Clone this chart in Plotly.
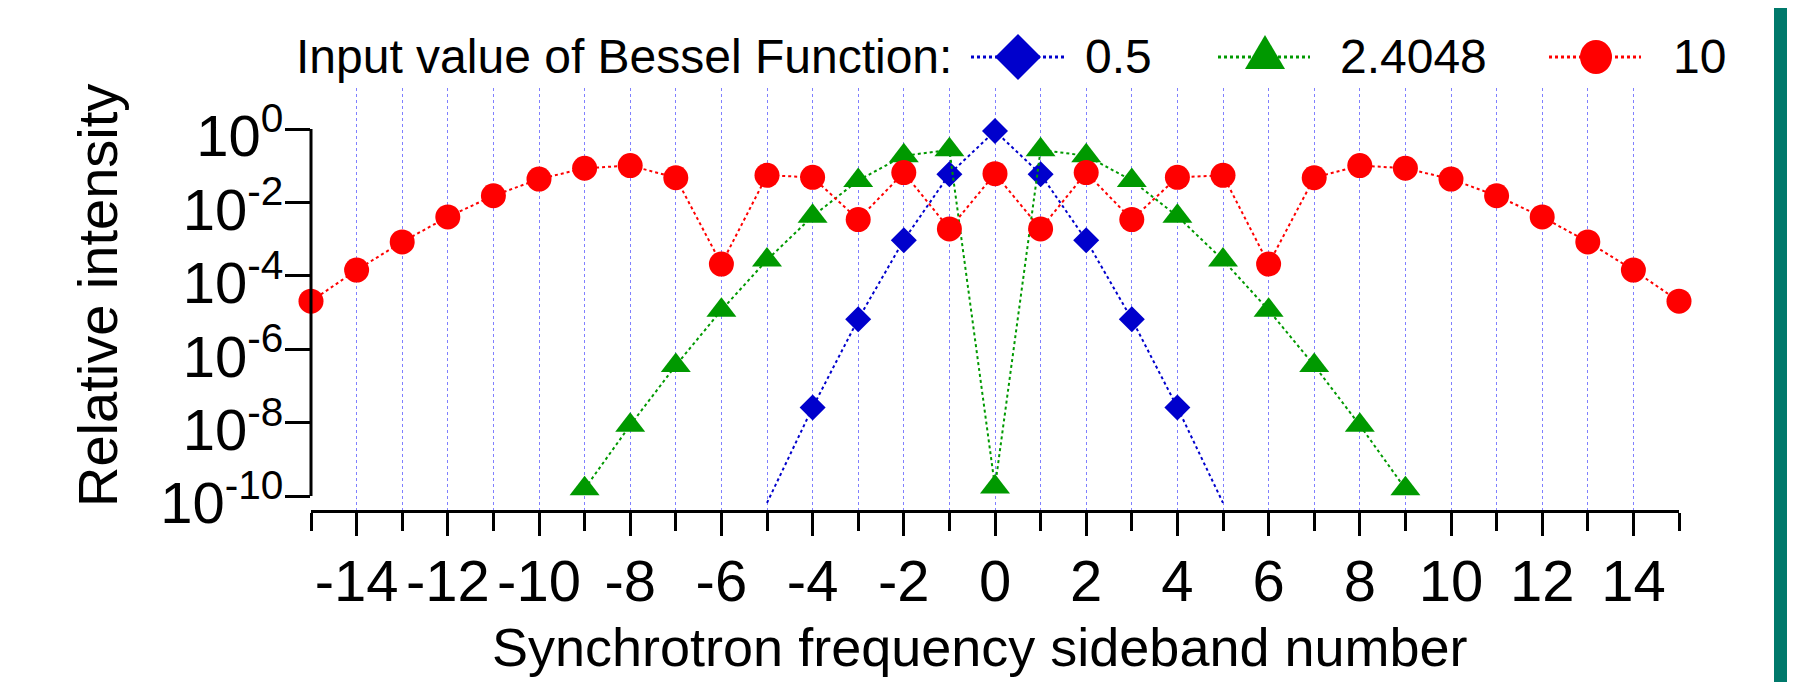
import plotly.graph_objects as go

# ---------------- data ----------------
sideband_a = [-5, -4, -3, -2, -1, 0, 1, 2, 3, 4, 5]
intensity_a = [6.49e-11, 2.58e-8, 6.57e-6, 9.37e-4, 5.87e-2, 0.881,
               5.87e-2, 9.37e-4, 6.57e-6, 2.58e-8, 6.49e-11]

sideband_b = [-9, -8, -7, -6, -5, -4, -3, -2, -1, 0, 1, 2, 3, 4, 5, 6, 7, 8, 9]
intensity_b = [1.57e-10, 8.49e-9, 3.61e-7, 1.16e-5, 2.69e-4, 4.19e-3, 3.96e-2, 0.186, 0.270,
               1.77e-10,
               0.270, 0.186, 3.96e-2, 4.19e-3, 2.69e-4, 1.16e-5, 3.61e-7, 8.49e-9, 1.57e-10]

sideband_c = [-15, -14, -13, -12, -11, -10, -9, -8, -7, -6, -5, -4, -3, -2, -1, 0,
              1, 2, 3, 4, 5, 6, 7, 8, 9, 10, 11, 12, 13, 14, 15]
intensity_c = [2.03e-5, 1.43e-4, 8.39e-4, 4.02e-3, 1.52e-2, 4.31e-2, 8.52e-2, 0.101, 4.70e-2,
               2.09e-4, 5.48e-2, 4.82e-2, 3.41e-3, 6.48e-2, 1.89e-3,
               6.05e-2,
               1.89e-3, 6.48e-2, 3.41e-3, 4.82e-2, 5.48e-2, 2.09e-4, 4.70e-2, 0.101, 8.52e-2,
               4.31e-2, 1.52e-2, 4.02e-3, 8.39e-4, 1.43e-4, 2.03e-5]

series_names = ["0.5", "2.4048", "10"]
legend_title = "Input value of Bessel Function:"
x_title = "Synchrotron frequency sideband number"
y_title = "Relative intensity"

x_tick_values = [-14, -12, -10, -8, -6, -4, -2, 0, 2, 4, 6, 8, 10, 12, 14]
x_tick_labels = ["-14", "-12", "-10", "-8", "-6", "-4", "-2", "0", "2", "4", "6", "8", "10", "12", "14"]
y_tick_exponents = [0, -2, -4, -6, -8, -10]

# ---------------- layout geometry (page pixels) ----------------
PAGE_W, PAGE_H = 1806, 682
OFF = 8                      # default body margin of the html page
W, H = PAGE_W - OFF, PAGE_H - OFF
PLOT_L, PLOT_R, PLOT_T, PLOT_B = 311, 1679, 88, 510   # plot area on the page
ML, MT = PLOT_L - OFF, PLOT_T - OFF
MR, MB = PAGE_W - PLOT_R, PAGE_H - PLOT_B
PW, PH = PLOT_R - PLOT_L, PLOT_B - PLOT_T


def fx(px):
    return (px - PLOT_L) / PW


def fy(py):
    return (PLOT_B - py) / PH


top_tick_px, bottom_tick_px = 129, 496
ppd = (bottom_tick_px - top_tick_px) / (max(y_tick_exponents) - min(y_tick_exponents))
y_top = max(y_tick_exponents) + (top_tick_px - PLOT_T) / ppd
y_bot = min(y_tick_exponents) - (PLOT_B - bottom_tick_px) / ppd

FONT = "Liberation Sans, Arial, sans-serif"
colors = ["#0000CC", "#009900", "#FF0000"]
symbols = ["diamond", "triangle-up", "circle"]
msizes = [20, 26, 25]

series = [(sideband_a, intensity_a), (sideband_b, intensity_b), (sideband_c, intensity_c)]
y_min_val = 10.0 ** min(y_tick_exponents)

fig = go.Figure()
for (xs, ys), name, col, sym, ms in zip(series, series_names, colors, symbols, msizes):
    fig.add_trace(go.Scatter(x=xs, y=ys, mode="lines", name=name, showlegend=False,
                             line=dict(color=col, width=2, dash="dot")))
    keep = [(x, y) for x, y in zip(xs, ys) if y >= y_min_val]
    fig.add_trace(go.Scatter(x=[k[0] for k in keep], y=[k[1] for k in keep], mode="markers",
                             name=name, showlegend=False, cliponaxis=False,
                             marker=dict(color=col, symbol=sym, size=ms, line=dict(width=0))))

grid_col = "#8080FF"
fig.update_xaxes(range=[-15, 15], showline=True, linewidth=3, linecolor="black",
                 ticks="outside", ticklen=23, tickwidth=3, tickcolor="black",
                 tickmode="array", tickvals=x_tick_values, ticktext=x_tick_labels,
                 tickfont=dict(family=FONT, size=58, color="black"),
                 ticklabelstandoff=-5,
                 showgrid=True, gridcolor=grid_col, gridwidth=1, griddash="3px,3px",
                 zeroline=False,
                 minor=dict(dtick=1, tick0=0, ticks="outside", ticklen=18, tickwidth=3,
                            tickcolor="black", showgrid=True, gridcolor=grid_col,
                            gridwidth=1, griddash="3px,3px"))
fig.update_yaxes(type="log", range=[y_bot, y_top], showline=False, showgrid=False, zeroline=False,
                 ticks="outside", ticklen=25, tickwidth=3, tickcolor="black",
                 tickmode="array", tickvals=[10.0 ** e for e in y_tick_exponents],
                 ticktext=["10<sup>%d</sup>" % e for e in y_tick_exponents],
                 tickfont=dict(family=FONT, size=58, color="black"),
                 ticklabelstandoff=-10, ticklabelshift=7)

shapes = []
annotations = []
# y axis line only between the first and last decade ticks
shapes.append(dict(type="line", xref="paper", yref="y", x0=0, x1=0,
                   y0=10.0 ** min(y_tick_exponents), y1=10.0 ** max(y_tick_exponents),
                   line=dict(color="black", width=3)))

# manual legend (large glyphs)
legend_y = 57
legend_items = [  # line start, line end, glyph centre, text left (page px)
    (971, 1064, 1018, 1083),
    (1218, 1310, 1265, 1338),
    (1549, 1641, 1596, 1671),
]
annotations.append(dict(text=legend_title, xref="paper", yref="paper", x=fx(294), y=fy(legend_y),
                        xanchor="left", yanchor="middle", showarrow=False,
                        font=dict(family=FONT, size=48, color="black")))
glyph_paths = {
    "diamond": "M-23,0L0,23L23,0L0,-23Z",
    "triangle-up": "M-20,-12L20,-12L0,22Z",
}
for (lx0, lx1, gc, tx), name, col, sym in zip(legend_items, series_names, colors, symbols):
    shapes.append(dict(type="line", xref="paper", yref="paper", x0=fx(lx0), x1=fx(lx1),
                       y0=fy(legend_y), y1=fy(legend_y), line=dict(color=col, width=3, dash="dot")))
    if sym == "circle":
        shapes.append(dict(type="circle", xref="paper", yref="paper", xsizemode="pixel",
                           ysizemode="pixel", xanchor=fx(gc), yanchor=fy(legend_y),
                           x0=-16, x1=16, y0=-17, y1=17, fillcolor=col, line=dict(width=0)))
    else:
        shapes.append(dict(type="path", xref="paper", yref="paper", xsizemode="pixel",
                           ysizemode="pixel", xanchor=fx(gc), yanchor=fy(legend_y),
                           path=glyph_paths[sym], fillcolor=col, line=dict(width=0)))
    annotations.append(dict(text=name, xref="paper", yref="paper", x=fx(tx), y=fy(legend_y),
                            xanchor="left", yanchor="middle", showarrow=False,
                            font=dict(family=FONT, size=48, color="black")))

# axis titles
annotations.append(dict(text=x_title, xref="paper", yref="paper", x=fx(980), y=fy(647),
                        xanchor="center", yanchor="middle", showarrow=False,
                        font=dict(family=FONT, size=54, color="black")))
annotations.append(dict(text=y_title, xref="paper", yref="paper", x=fx(97), y=fy(296),
                        xanchor="center", yanchor="middle", showarrow=False, textangle=-90,
                        font=dict(family=FONT, size=56, color="black")))

# teal page border at the right
shapes.append(dict(type="rect", xref="paper", yref="paper", x0=fx(1774), x1=fx(1787),
                   y0=fy(PAGE_H), y1=fy(0), fillcolor="#00796B", line=dict(width=0), layer="above"))

fig.update_layout(width=W, height=H, margin=dict(l=ML, r=MR, t=MT, b=MB, pad=0),
                  paper_bgcolor="white", plot_bgcolor="white", showlegend=False,
                  shapes=shapes, annotations=annotations,
                  font=dict(family=FONT, color="black"))

fig.write_html("out.html")
